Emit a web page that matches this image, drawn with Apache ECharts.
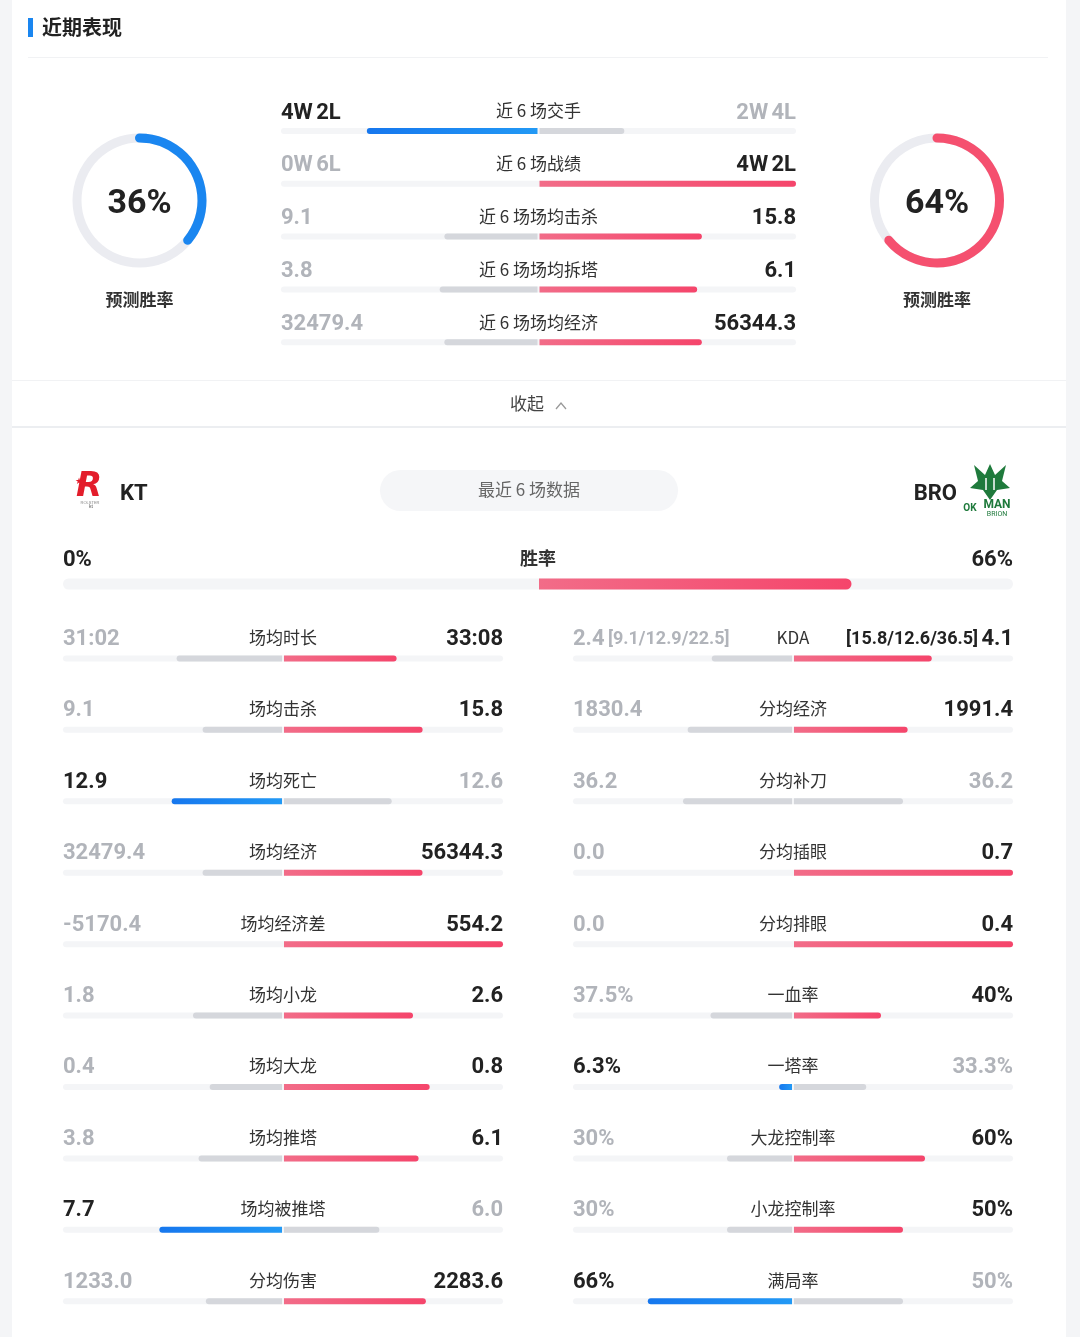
<!DOCTYPE html>
<html>
<head>
<meta charset="utf-8">
<title>近期表现</title>
<script src="https://cdn.jsdelivr.net/npm/echarts@6/dist/echarts.min.js"></script>
<style>
  html, body { margin: 0; padding: 0; background: #f4f5f7; }
  #main { width: 1080px; height: 1337px; }
</style>
</head>
<body>
<div id="main"></div>
<script>
/************************ 数据 ************************/
var gaugeNames = ['预测胜率', '预测胜率'];
var gaugeValues = [36, 64];

var recentNames = ['近 6 场交手', '近 6 场战绩', '近 6 场场均击杀', '近 6 场场均拆塔', '近 6 场场均经济'];
var recentLeft = [4, 0, 9.1, 3.8, 32479.4];          // 交手/战绩 用胜场数
var recentRight = [2, 4, 15.8, 6.1, 56344.3];
var recentLeftText = ['4W 2L', '0W 6L', '9.1', '3.8', '32479.4'];
var recentRightText = ['2W 4L', '4W 2L', '15.8', '6.1', '56344.3'];
var recentLead = ['L', 'R', 'R', 'R', 'R'];

var teams = ['KT', 'BRO'];
var winName = ['胜率'];
var winLeft = [0];
var winRight = [66];

var statLNames = ['场均时长', '场均击杀', '场均死亡', '场均经济', '场均经济差', '场均小龙', '场均大龙', '场均推塔', '场均被推塔', '分均伤害'];
var statLLeft = [1862, 9.1, 12.9, 32479.4, -5170.4, 1.8, 0.4, 3.8, 7.7, 1233.0];   // 时长用秒
var statLRight = [1988, 15.8, 12.6, 56344.3, 554.2, 2.6, 0.8, 6.1, 6.0, 2283.6];
var statLLeftText = ['31:02', '9.1', '12.9', '32479.4', '-5170.4', '1.8', '0.4', '3.8', '7.7', '1233.0'];
var statLRightText = ['33:08', '15.8', '12.6', '56344.3', '554.2', '2.6', '0.8', '6.1', '6.0', '2283.6'];
var statLLead = ['R', 'R', 'L', 'R', 'R', 'R', 'R', 'R', 'L', 'R'];

var statRNames = ['KDA', '分均经济', '分均补刀', '分均插眼', '分均排眼', '一血率', '一塔率', '大龙控制率', '小龙控制率', '满局率'];
var statRLeft = [2.4, 1830.4, 36.2, 0.0, 0.0, 37.5, 6.3, 30, 30, 66];
var statRRight = [4.1, 1991.4, 36.2, 0.7, 0.4, 40, 33.3, 60, 50, 50];
var statRLeftText = ['2.4 [9.1/12.9/22.5]', '1830.4', '36.2', '0.0', '0.0', '37.5%', '6.3%', '30%', '30%', '66%'];
var statRRightText = ['[15.8/12.6/36.5] 4.1', '1991.4', '36.2', '0.7', '0.4', '40%', '33.3%', '60%', '50%', '50%'];
var statRLead = ['R', 'R', '', 'R', 'R', 'R', 'L', 'R', 'R', 'L'];
var statRPct = [0, 0, 0, 0, 0, 1, 1, 1, 1, 1];

/************************ 样式 ************************/
var NUM_FONT = 'Roboto';
var CJK = '"Noto Sans CJK SC"';
var TRACK = '#f4f5f7';
var GRAY = '#d5d7dc';
var DARK = '#222222';
var LIGHT = '#b1b4ba';
var BLUE = '#1a86f0';
var RED = '#f5506f';

function blueGrad() {
  return new echarts.graphic.LinearGradient(0, 0, 1, 0, [
    { offset: 0, color: '#1677ee' }, { offset: 1, color: '#2299f5' }
  ]);
}
function redGrad() {
  return new echarts.graphic.LinearGradient(0, 0, 1, 0, [
    { offset: 0, color: '#f26c88' }, { offset: 1, color: '#f5456b' }
  ]);
}

// 左右占比：百分比按绝对值，其余按两边之和
function fractions(l, r, pct) {
  if (pct) return [l / 100, r / 100];
  l = Math.max(l, 0); r = Math.max(r, 0);
  var s = l + r;
  return s ? [l / s, r / s] : [0, 0];
}

function richify(s) {
  return s.split(' ').map(function (p) {
    return p.charAt(0) === '[' ? '{s|' + p + '}' : '{n|' + p + '}';
  }).join(' ');
}

function numText(x, y, s, align, color, st) {
  return {
    type: 'text',
    style: {
      x: x, y: y + 2, text: richify(s),
      align: align, textAlign: align, verticalAlign: 'middle', textVerticalAlign: 'middle',
      fill: color,
      rich: {
        n: { fontSize: st.num, fontWeight: 'bold', fontFamily: NUM_FONT, fill: color },
        s: { fontSize: st.small, fontWeight: 'bold', fontFamily: NUM_FONT, fill: color }
      }
    }
  };
}

function panel(gi, names, lv, rv, lt, rt, lead, pct, st) {
  var data = names.map(function (n, i) {
    var f = fractions(lv[i], rv[i], pct ? pct[i] : 0);
    return [0, i, f[0], f[1]];
  });
  return {
    type: 'custom',
    coordinateSystem: 'cartesian2d',
    xAxisIndex: gi,
    yAxisIndex: gi,
    encode: { x: 0, y: 1 },
    silent: true,
    data: data,
    renderItem: function (params, api) {
      var i = params.dataIndex;
      var row = api.value(1);
      var c = api.coord([0, row]);
      var a = api.coord([-1, row]);
      var b = api.coord([1, row]);
      var l = api.coord([-api.value(2), row]);
      var r = api.coord([api.value(3), row]);
      var h = st.barH, y0 = c[1] - h / 2, rad = h / 2;
      var kids = [{
        type: 'rect',
        shape: { x: a[0], y: y0, width: b[0] - a[0], height: h, r: rad },
        style: { fill: TRACK }
      }];
      if (c[0] - l[0] > 2) {
        kids.push({
          type: 'rect',
          shape: { x: l[0], y: y0, width: c[0] - 1 - l[0], height: h, r: [rad, 0, 0, rad] },
          style: { fill: lead[i] === 'L' ? blueGrad() : GRAY }
        });
      }
      if (r[0] - c[0] > 2) {
        kids.push({
          type: 'rect',
          shape: { x: c[0] + 1, y: y0, width: r[0] - c[0] - 1, height: h, r: [0, rad, rad, 0] },
          style: { fill: lead[i] === 'R' ? redGrad() : GRAY }
        });
      }
      var ty = c[1] - st.dy;
      var lc = (st.allDark || lead[i] === 'L') ? DARK : LIGHT;
      var rc = (st.allDark || lead[i] === 'R') ? DARK : LIGHT;
      kids.push(numText(a[0], ty, lt[i], 'left', lc, st));
      kids.push(numText(b[0], ty, rt[i], 'right', rc, st));
      kids.push({
        type: 'text',
        style: {
          x: c[0], y: ty, text: names[i],
          align: 'center', textAlign: 'center', verticalAlign: 'middle', textVerticalAlign: 'middle',
          fill: '#333', fontSize: st.name, fontFamily: CJK, fontWeight: st.nameWeight || 'normal'
        }
      });
      return { type: 'group', children: kids };
    }
  };
}

function gauge(cx, value, name, color) {
  return {
    type: 'gauge',
    center: [cx, 200.5],
    radius: 67,
    startAngle: 90,
    endAngle: -270,
    min: 0,
    max: 100,
    silent: true,
    pointer: { show: false },
    axisTick: { show: false },
    splitLine: { show: false },
    axisLabel: { show: false },
    axisLine: { lineStyle: { width: 9, color: [[1, '#ebecf1']] } },
    progress: { show: true, width: 9, roundCap: true, itemStyle: { color: color } },
    title: { offsetCenter: [0, 99], fontSize: 17, color: '#333', fontWeight: 'bold', fontFamily: CJK },
    detail: {
      offsetCenter: [0, 4], formatter: '{value}%', fontSize: 34, fontWeight: 'bold',
      color: DARK, fontFamily: NUM_FONT
    },
    data: [{ value: value, name: name }]
  };
}

/************************ 布局 ************************/
var grids = [
  { left: 281, width: 515, top: 104.6, height: 264 },   // 近期交手
  { left: 63, width: 950, top: 574, height: 20 },       // 胜率
  { left: 63, width: 440, top: 622.7, height: 725.6 },  // 左列
  { left: 573, width: 440, top: 622.7, height: 725.6 }  // 右列
];
var yCats = [recentNames, winName, statLNames, statRNames];

var chart = echarts.init(document.getElementById('main'));
var option = {
  backgroundColor: '#f4f5f7',
  animation: false,
  grid: grids,
  xAxis: grids.map(function (g, i) {
    return { type: 'value', gridIndex: i, min: -1, max: 1, show: false };
  }),
  yAxis: yCats.map(function (c, i) {
    return { type: 'category', gridIndex: i, data: c, inverse: true, show: false };
  }),
  graphic: [
    { type: 'rect', z: -10, shape: { x: 12, y: 0, width: 1054, height: 1337 }, style: { fill: '#fff' } },
    { type: 'rect', shape: { x: 28, y: 18, width: 5, height: 19 }, style: { fill: BLUE } },
    { type: 'text', style: { x: 42, y: 27, text: '近期表现', fontSize: 20, fontWeight: 'bold', fontFamily: CJK, fill: DARK, verticalAlign: 'middle', textVerticalAlign: 'middle' } },
    { type: 'rect', shape: { x: 28, y: 57, width: 1020, height: 1 }, style: { fill: '#f1f2f4' } },
    { type: 'rect', shape: { x: 12, y: 380, width: 1054, height: 1 }, style: { fill: '#f1f2f4' } },
    { type: 'rect', shape: { x: 12, y: 426, width: 1054, height: 2 }, style: { fill: '#eceef1' } },
    { type: 'text', style: { x: 527, y: 404, text: '收起', fontSize: 17, fontFamily: CJK, fill: '#444', align: 'center', textAlign: 'center', verticalAlign: 'middle', textVerticalAlign: 'middle' } },
    { type: 'polyline', shape: { points: [[556, 409], [561, 403], [566, 409]] }, style: { stroke: '#999', lineWidth: 1.3, fill: null } },
    // 最近 6 场数据
    { type: 'rect', shape: { x: 380, y: 470, width: 298, height: 41, r: 20.5 }, style: { fill: '#f5f6f8' } },
    { type: 'text', style: { x: 529, y: 490, text: '最近 6 场数据', fontSize: 17, fontFamily: CJK, fill: '#666', align: 'center', textAlign: 'center', verticalAlign: 'middle', textVerticalAlign: 'middle' } },
    // KT 标志
    { type: 'text', style: { x: 89, y: 487, text: 'R', fontSize: 34, fontWeight: 'bold', fontStyle: 'italic', fontFamily: 'DejaVu Sans', fill: '#e31d2b', align: 'center', textAlign: 'center', verticalAlign: 'middle', textVerticalAlign: 'middle' } },
    { type: 'text', style: { x: 79, y: 482, text: '★', fontSize: 9, fill: '#e31d2b', align: 'center', textAlign: 'center', verticalAlign: 'middle', textVerticalAlign: 'middle' } },
    { type: 'text', style: { x: 90, y: 503, text: 'ROLSTER', fontSize: 4, fill: '#888', align: 'center', textAlign: 'center', verticalAlign: 'middle', textVerticalAlign: 'middle' } },
    { type: 'text', style: { x: 91, y: 507, text: 'kt', fontSize: 5, fill: '#555', align: 'center', textAlign: 'center', verticalAlign: 'middle', textVerticalAlign: 'middle' } },
    { type: 'text', style: { x: 120, y: 494, text: teams[0], fontSize: 22, fontWeight: 'bold', fontFamily: NUM_FONT, fill: DARK, verticalAlign: 'middle', textVerticalAlign: 'middle' } },
    // BRO 标志
    { type: 'text', style: { x: 957, y: 494, text: teams[1], fontSize: 22, fontWeight: 'bold', fontFamily: NUM_FONT, fill: DARK, align: 'right', textAlign: 'right', verticalAlign: 'middle', textVerticalAlign: 'middle' } },
    { type: 'polygon', shape: { points: [[974, 465], [985, 475], [990, 464], [995, 475], [1006, 465], [1002, 481], [1010, 488], [997, 490], [990, 500], [983, 490], [970, 488], [978, 481]] }, style: { fill: '#1f7a3c' } },
    { type: 'polyline', shape: { points: [[986, 478], [986, 490]] }, style: { stroke: '#fff', lineWidth: 1.5 } },
    { type: 'polyline', shape: { points: [[994, 478], [994, 490]] }, style: { stroke: '#fff', lineWidth: 1.5 } },
    { type: 'text', style: { x: 970, y: 508, text: 'OK', fontSize: 10, fontWeight: 'bold', fontFamily: NUM_FONT, fill: '#1f7a3c', align: 'center', textAlign: 'center', verticalAlign: 'middle', textVerticalAlign: 'middle' } },
    { type: 'text', style: { x: 997, y: 505, text: 'MAN', fontSize: 12, fontWeight: 'bold', fontFamily: NUM_FONT, fill: '#1f7a3c', align: 'center', textAlign: 'center', verticalAlign: 'middle', textVerticalAlign: 'middle' } },
    { type: 'text', style: { x: 997, y: 514, text: 'BRION', fontSize: 7, fontFamily: NUM_FONT, fill: '#1f7a3c', align: 'center', textAlign: 'center', verticalAlign: 'middle', textVerticalAlign: 'middle' } }
  ],
  series: [
    gauge(139.5, gaugeValues[0], gaugeNames[0], BLUE),
    gauge(937, gaugeValues[1], gaugeNames[1], RED),
    panel(0, recentNames, recentLeft, recentRight, recentLeftText, recentRightText, recentLead, null,
      { barH: 6, dy: 20, num: 22, small: 18, name: 17 }),
    panel(1, winName, winLeft, winRight, ['0%'], ['66%'], ['R'], [1],
      { barH: 11, dy: 26, num: 22, small: 18, name: 18, nameWeight: 'bold', allDark: true }),
    panel(2, statLNames, statLLeft, statLRight, statLLeftText, statLRightText, statLLead, null,
      { barH: 6, dy: 21, num: 22, small: 18, name: 17 }),
    panel(3, statRNames, statRLeft, statRRight, statRLeftText, statRRightText, statRLead, statRPct,
      { barH: 6, dy: 21, num: 22, small: 18, name: 17 })
  ]
};
chart.setOption(option);
</script>
</body>
</html>
